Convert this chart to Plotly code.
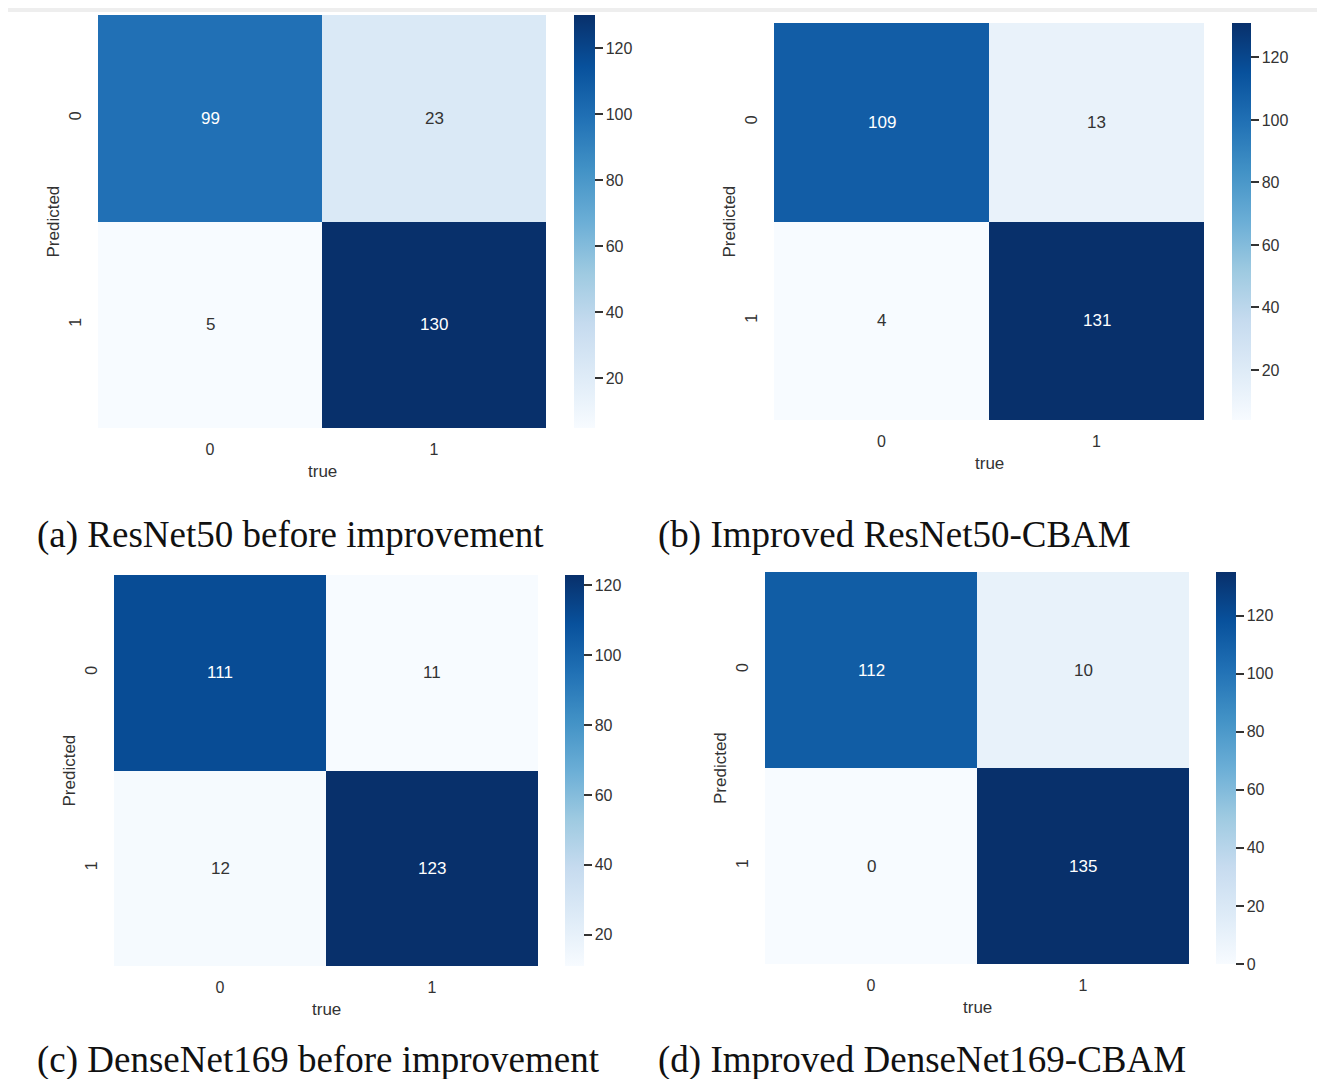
import plotly.graph_objects as go

# ---------------- data ----------------
true_labels = ["0", "1"]
pred_labels = ["0", "1"]

cm_a = [[99, 23], [5, 130]]
cm_b = [[109, 13], [4, 131]]
cm_c = [[111, 11], [12, 123]]
cm_d = [[112, 10], [0, 135]]

captions = [
    "(a) ResNet50 before improvement",
    "(b) Improved ResNet50-CBAM",
    "(c) DenseNet169 before improvement",
    "(d) Improved DenseNet169-CBAM",
]

cbar_ticks_a = [20, 40, 60, 80, 100, 120]
cbar_ticks_b = [20, 40, 60, 80, 100, 120]
cbar_ticks_c = [20, 40, 60, 80, 100, 120]
cbar_ticks_d = [0, 20, 40, 60, 80, 100, 120]

# ---------------- styling ----------------
OFF = 8  # page body margin
W, H = 1317, 1071
BLUES = [
    [0.0, "#f7fbff"], [0.125, "#deebf7"], [0.25, "#c6dbef"], [0.375, "#9ecae1"],
    [0.5, "#6baed6"], [0.625, "#4292c6"], [0.75, "#2171b5"], [0.875, "#08519c"],
    [1.0, "#08306b"],
]
SANS = "Liberation Sans, Arial, Helvetica, sans-serif"
SERIF = "Liberation Serif, Times New Roman, serif"
TXT = "#333333"

def px_x(p):
    return (p - OFF) / W

def px_y(p):
    return 1 - (p - OFF) / H

# panel geometry in pixels: heatmap (left, top, right, bottom), colorbar (left, thickness)
panels = [
    dict(cm=cm_a, ticks=cbar_ticks_a, box=(98, 15, 546, 428), cb=(574, 21), cap=(35, 535)),
    dict(cm=cm_b, ticks=cbar_ticks_b, box=(774, 23, 1204, 420), cb=(1232, 19), cap=(656, 535)),
    dict(cm=cm_c, ticks=cbar_ticks_c, box=(114, 575, 538, 966), cb=(565, 19), cap=(35, 1060)),
    dict(cm=cm_d, ticks=cbar_ticks_d, box=(765, 572, 1189, 964), cb=(1216, 20), cap=(656, 1060)),
]

fig = go.Figure()
annotations = []

for i, (p, caption_text) in enumerate(zip(panels, captions)):
    n = "" if i == 0 else str(i + 1)
    l, t, r, b = p["box"]
    cbx, cbth = p["cb"]
    capx, capy = p["cap"]
    cm = p["cm"]
    vals = [v for row in cm for v in row]
    zmin, zmax = min(vals), max(vals)

    fig.add_trace(go.Heatmap(
        z=cm, x=true_labels, y=pred_labels,
        colorscale=BLUES, zmin=zmin, zmax=zmax,
        xgap=0, ygap=0, hoverinfo="z",
        xaxis="x" + n, yaxis="y" + n,
        colorbar=dict(
            x=px_x(cbx), xanchor="left", xpad=0, ypad=0,
            y=px_y((t + b) / 2), yanchor="middle",
            len=(b - t) / H, lenmode="fraction",
            thickness=cbth, outlinewidth=0,
            tickvals=p["ticks"], ticks="outside", ticklen=8, tickwidth=2,
            tickprefix="\u00a0",
            tickcolor=TXT, tickfont=dict(family=SANS, size=16, color=TXT),
        ),
    ))

    fig.layout["xaxis" + n] = dict(
        domain=[px_x(l), px_x(r)], anchor="y" + n,
        showgrid=False, zeroline=False, showline=False,
        ticks="outside", ticklen=7, tickcolor="rgba(0,0,0,0)",
        tickfont=dict(family=SANS, size=16, color=TXT),
    )
    fig.layout["yaxis" + n] = dict(
        domain=[px_y(b), px_y(t)], anchor="x" + n,
        autorange="reversed",
        showgrid=False, zeroline=False, showline=False,
        ticks="outside", ticklen=10, tickcolor="rgba(0,0,0,0)",
        tickangle=-90,
        tickfont=dict(family=SANS, size=16, color=TXT),
    )

    # cell annotations
    for ri, row in enumerate(cm):
        for ci, v in enumerate(row):
            frac = (v - zmin) / (zmax - zmin) if zmax > zmin else 0
            annotations.append(dict(
                x=true_labels[ci], y=pred_labels[ri],
                xref="x" + n, yref="y" + n,
                text=str(v), showarrow=False,
                font=dict(family=SANS, size=17,
                          color="white" if frac > 0.5 else TXT),
            ))

    # axis titles
    annotations.append(dict(
        x=px_x((l + r) / 2), y=px_y(b + 43), xref="paper", yref="paper",
        text="true", showarrow=False, xanchor="center", yanchor="middle",
        font=dict(family=SANS, size=17, color=TXT),
    ))
    annotations.append(dict(
        x=px_x(l - 45), y=px_y((t + b) / 2), xref="paper", yref="paper",
        text="Predicted", showarrow=False, xanchor="center", yanchor="middle",
        textangle=-90, font=dict(family=SANS, size=17, color=TXT),
    ))

    # caption
    annotations.append(dict(
        x=px_x(capx), y=px_y(capy), xref="paper", yref="paper",
        text=caption_text, showarrow=False, xanchor="left", yanchor="middle",
        font=dict(family=SERIF, size=37, color="#111111"),
    ))

fig.update_layout(
    width=W, height=H,
    margin=dict(l=0, r=0, t=0, b=0),
    paper_bgcolor="white", plot_bgcolor="white",
    annotations=annotations,
    showlegend=False,
    shapes=[
        dict(type="rect", xref="paper", yref="paper",
             x0=0, x1=1, y0=px_y(12), y1=1,
             fillcolor="#eeeeee", line=dict(width=0), layer="below"),
    ],
)

fig.write_html("out.html")
